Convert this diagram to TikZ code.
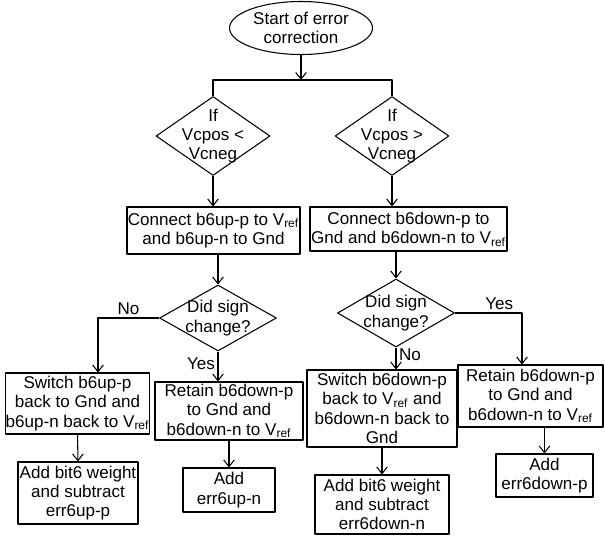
\documentclass[tikz,border=0pt]{standalone}
\usepackage{fontspec}
\setmainfont{Liberation Sans}
\usetikzlibrary{shapes.geometric, arrows.meta, calc}
\newcommand{\Vref}{V\textsubscript{ref}}

\begin{document}
\begin{tikzpicture}[x=0.02cm, y=-0.02cm, line width=0.6pt, line join=round,
    font=\fontsize{9.7}{11}\selectfont,
    flow/.style={-{Straight Barb[length=3.8pt, width=6pt]}},
    startstop/.style={ellipse, draw, inner sep=0pt, align=center},
    decision/.style={diamond, draw, inner sep=0pt},
    dtext/.style={align=center, inner sep=0pt},
    process/.style={rectangle, draw, inner sep=0pt, align=center},
    branch/.style={inner sep=1.5pt}]
    % Page area
    \useasboundingbox (0,0) rectangle (605,535);

    % Start
    \node[startstop, minimum width=2.86cm, minimum height=1.06cm] (start) at (301,28) {Start of error\\correction};
    \coordinate (fork) at (301,80);

    % First comparisons
    \node[decision, minimum width=2.28cm, minimum height=1.58cm] (ifL) at (213,136) {};
    \node[dtext] at (ifL) {If\\Vcpos <\\Vcneg};
    \node[decision, minimum width=2.28cm, minimum height=1.58cm] (ifR) at (392,136) {};
    \node[dtext] at (ifR) {If\\Vcpos >\\Vcneg};

    % Connect steps
    \node[process, minimum width=3.46cm, minimum height=0.94cm] (connL) at (213.5,230.5) {Connect b6up-p to \Vref\\and b6up-n to Gnd};
    \node[process, minimum width=3.94cm, minimum height=0.88cm] (connR) at (408.5,229) {Connect b6down-p to\\Gnd and b6down-n to \Vref};

    % Sign checks
    \node[decision, minimum width=2.34cm, minimum height=1.32cm] (signL) at (218,318) {};
    \node[dtext] at (signL) {Did sign\\change?};
    \node[decision, minimum width=2.34cm, minimum height=1.36cm] (signR) at (396,313) {};
    \node[dtext] at (signR) {Did sign\\change?};

    % Switch / retain steps
    \node[process, minimum width=2.86cm, minimum height=1.22cm] (swL) at (77.5,403.5) {Switch b6up-p\\back to Gnd and\\b6up-n back to \Vref};
    \node[process, minimum width=2.96cm, minimum height=1.16cm] (retL) at (229,411) {Retain b6down-p\\to Gnd and\\b6down-n to \Vref};
    \node[process, minimum width=3.00cm, minimum height=1.54cm] (swR) at (382,408.5) {Switch b6down-p\\back to \Vref{} and\\b6down-n back to\\Gnd};
    \node[process, minimum width=2.90cm, minimum height=1.24cm] (retR) at (530.5,396) {Retain b6down-p\\to Gnd and\\b6down-n to \Vref};

    % Final additions
    \node[process, minimum width=2.40cm, minimum height=1.24cm] (addL) at (78,493) {Add bit6 weight\\and subtract\\err6up-p};
    \node[process, minimum width=1.84cm, minimum height=0.88cm] (addUN) at (229,490) {Add\\err6up-n};
    \node[process, minimum width=2.68cm, minimum height=1.18cm] (addR) at (382,504.5) {Add bit6 weight\\and subtract\\err6down-n};
    \node[process, minimum width=1.94cm, minimum height=0.86cm] (addDP) at (544.5,475.5) {Add\\err6down-p};

    % Connectors
    \draw[flow] (start.south) -- (fork);
    \draw (ifL.north) |- (fork) -| (ifR.north);
    \draw[flow] (ifL.south) -- (ifL.south |- connL.north);
    \draw[flow] (ifR.south) -- (ifR.south |- connR.north);
    \draw[flow] (connL.south -| signL.north) -- (signL.north);
    \draw[flow] (connR.south -| signR.north) -- (signR.north);

    \draw[flow] (signL.west) -| node[branch, pos=0.25, above] {No} ($(swL.north)+(20.5,0)$);
    \draw[flow] (signL.south) -- node[branch, pos=0.4, left] {Yes} (signL.south |- retL.north);
    \draw[flow] (signR.south) -- node[branch, pos=0.35, right] {No} (signR.south |- swR.north);
    \draw[flow] (signR.east) -| node[branch, pos=0.33, above] {Yes} ($(retR.north)+(-8.5,0)$);

    \draw[flow] (swL.south) -- (addL.north);
    \draw[flow] (retL.south) -- (addUN.north);
    \draw[flow] (swR.south) -- (addR.north);
    \draw[flow] (retR.south -| addDP.north) -- (addDP.north);
\end{tikzpicture}
\end{document}
